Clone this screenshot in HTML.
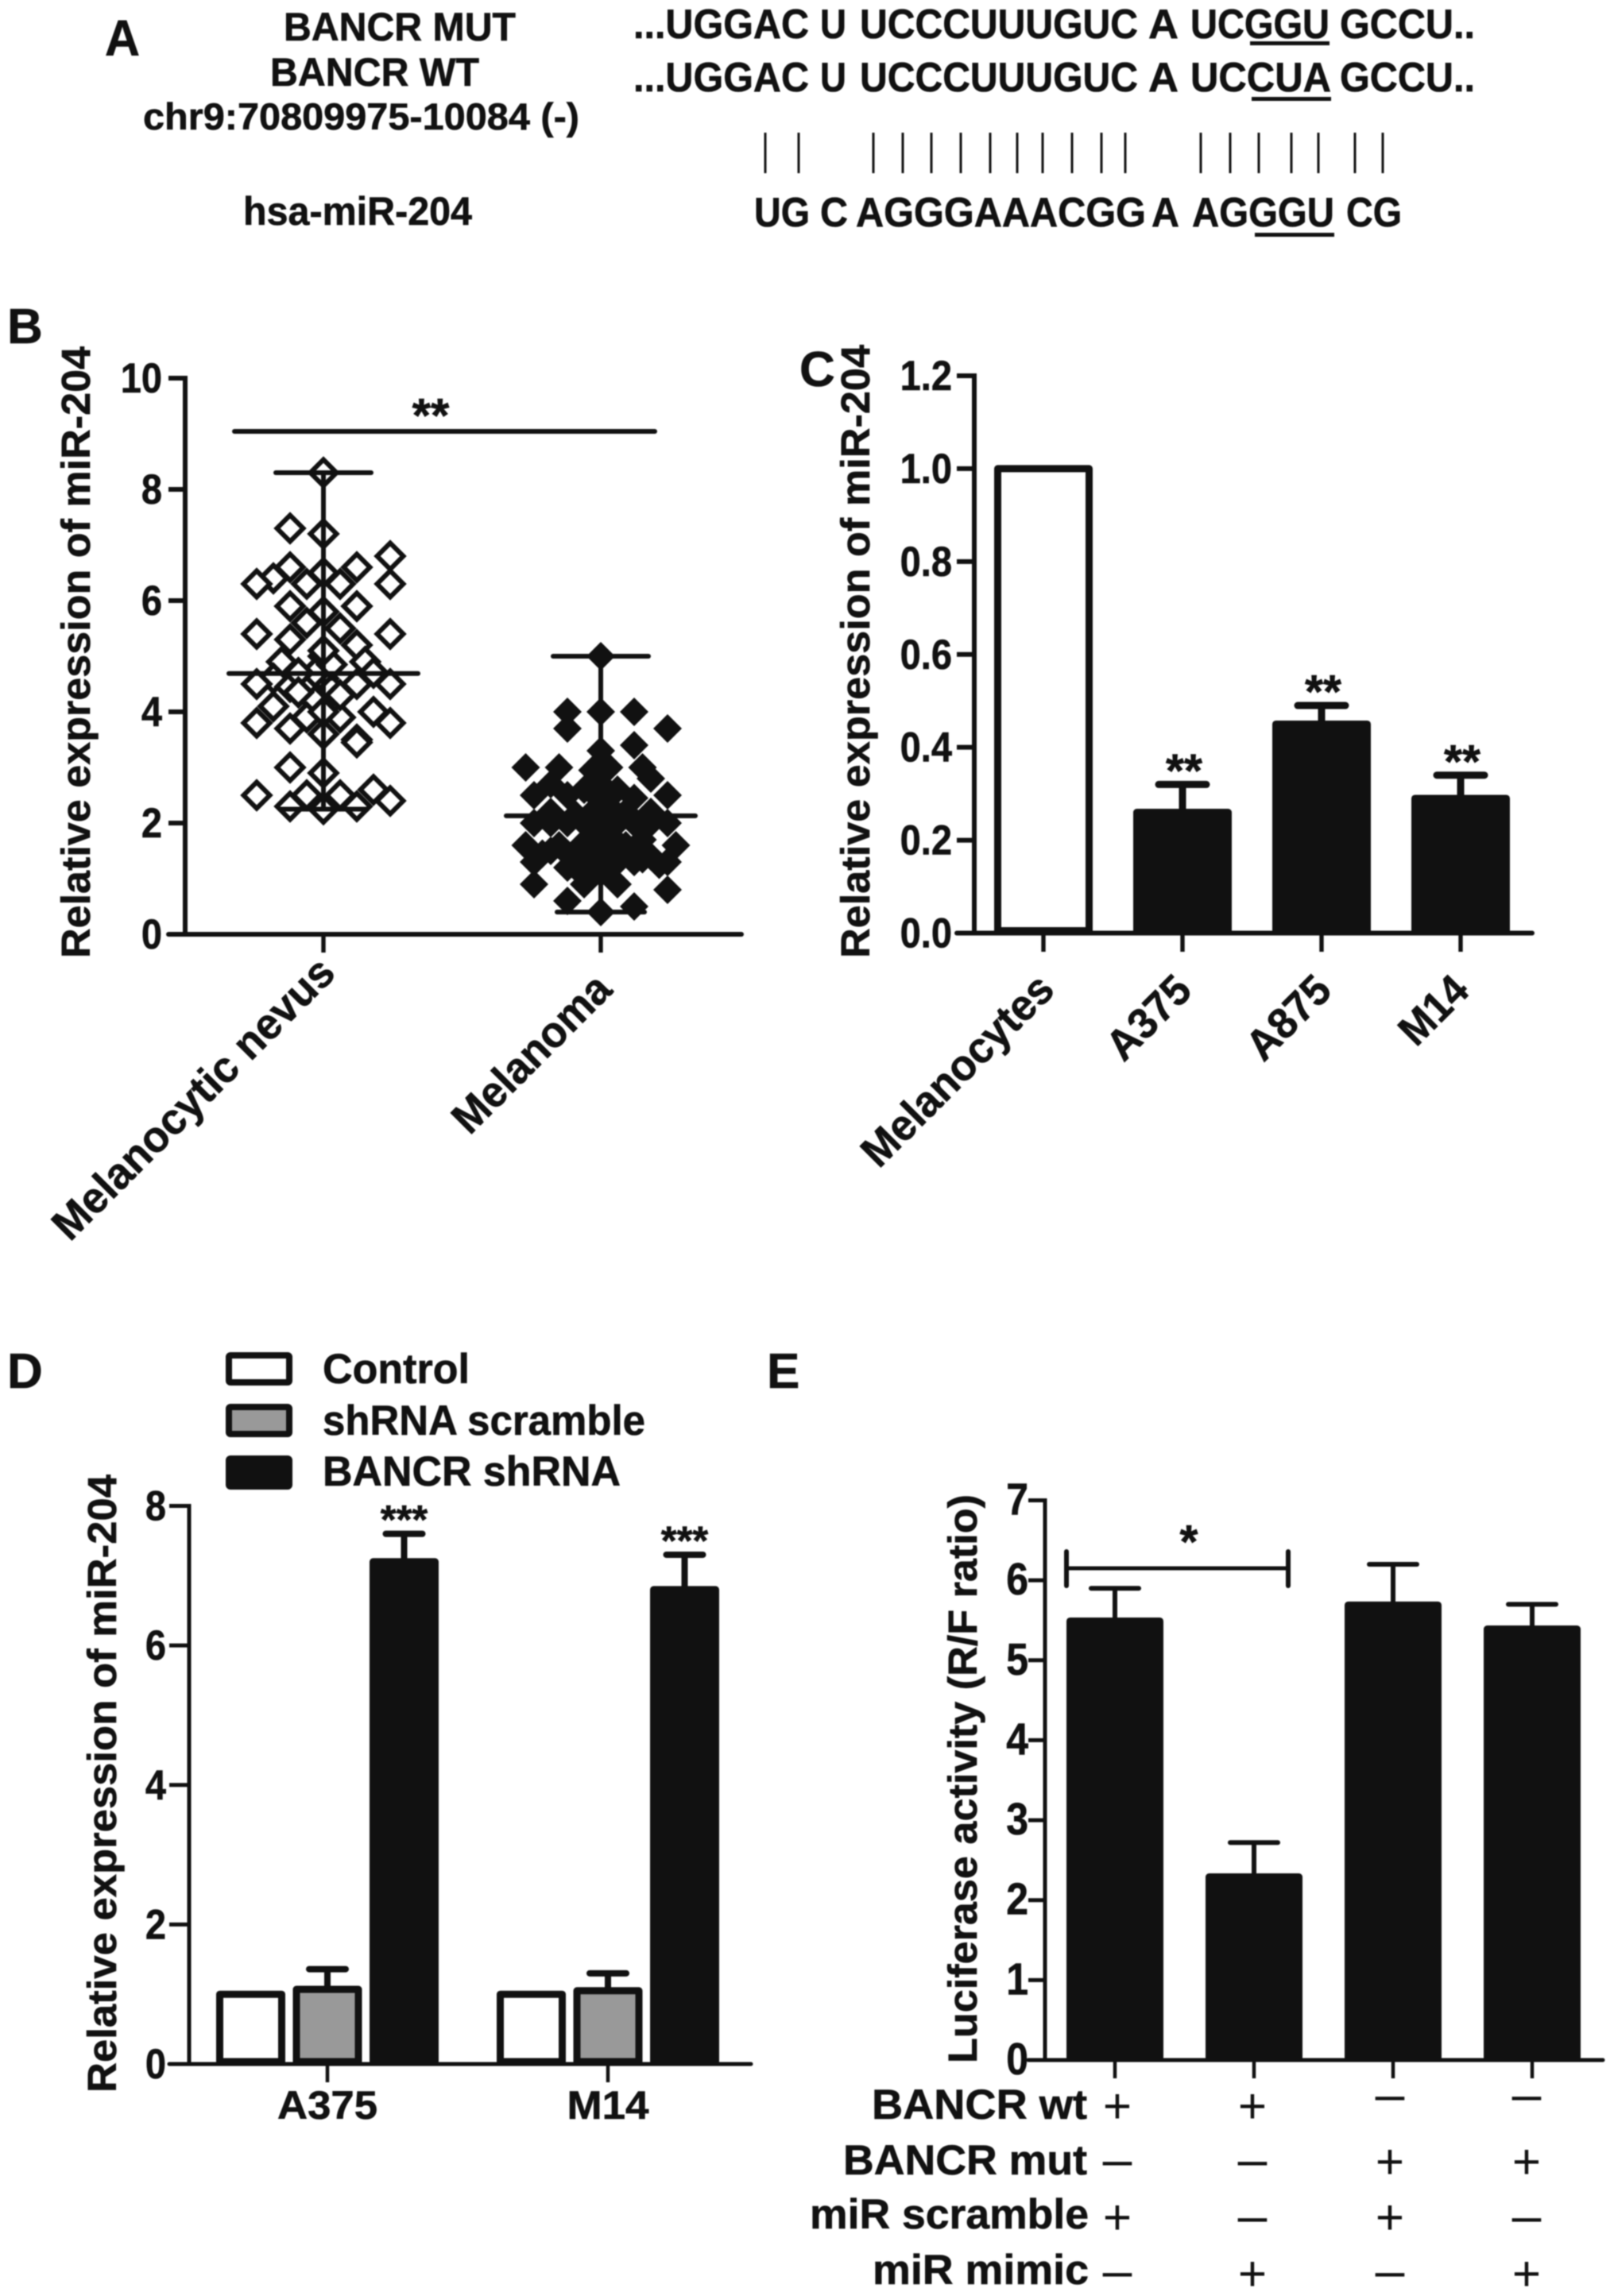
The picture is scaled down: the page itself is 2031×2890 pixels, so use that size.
<!DOCTYPE html>
<html lang="en">
<head>
<meta charset="utf-8">
<title>BANCR and miR-204 figure</title>
<style>
html,body{margin:0;padding:0;background:#fff;}
#figure{display:block;width:2031px;height:2890px;filter:blur(0.7px);}
text{font-family:"Liberation Sans",Arial,sans-serif;font-weight:bold;fill:#111;stroke:#111;stroke-width:0.6px;}
.seq{font-size:52px;}
</style>
</head>
<body>
<svg id="figure" xmlns="http://www.w3.org/2000/svg" width="2031" height="2890" viewBox="0 0 2031 2890">
  <rect width="2031" height="2890" fill="#fff"/>

  <g>
    <text x="132" y="70" font-size="64" textLength="44" lengthAdjust="spacingAndGlyphs">A</text>
    <text x="357" y="51" font-size="50" textLength="292" lengthAdjust="spacingAndGlyphs">BANCR MUT</text>
    <text x="340" y="108" font-size="50" textLength="263" lengthAdjust="spacingAndGlyphs">BANCR WT</text>
    <text x="180" y="163" font-size="47" textLength="549" lengthAdjust="spacingAndGlyphs">chr9:70809975-10084 (-)</text>
    <text x="306" y="283" font-size="50" textLength="288" lengthAdjust="spacingAndGlyphs">hsa-miR-204</text>

    <g class="seq">
      <text x="797" y="48" textLength="221" lengthAdjust="spacingAndGlyphs">...UGGAC</text>
      <text x="1032" y="48" textLength="33" lengthAdjust="spacingAndGlyphs">U</text>
      <text x="1082" y="48" textLength="350" lengthAdjust="spacingAndGlyphs">UCCCUUUGUC</text>
      <text x="1445" y="48" textLength="38" lengthAdjust="spacingAndGlyphs">A</text>
      <text x="1498" y="48" textLength="175" lengthAdjust="spacingAndGlyphs">UCGGU</text>
      <text x="1686" y="48" textLength="170" lengthAdjust="spacingAndGlyphs">GCCU..</text>
    </g>
    <rect x="1573" y="52" width="100" height="5" fill="#111"/>

    <g class="seq">
      <text x="797" y="115" textLength="221" lengthAdjust="spacingAndGlyphs">...UGGAC</text>
      <text x="1032" y="115" textLength="33" lengthAdjust="spacingAndGlyphs">U</text>
      <text x="1082" y="115" textLength="350" lengthAdjust="spacingAndGlyphs">UCCCUUUGUC</text>
      <text x="1445" y="115" textLength="38" lengthAdjust="spacingAndGlyphs">A</text>
      <text x="1498" y="115" textLength="177" lengthAdjust="spacingAndGlyphs">UCCUA</text>
      <text x="1686" y="115" textLength="170" lengthAdjust="spacingAndGlyphs">GCCU..</text>
    </g>
    <rect x="1575" y="122" width="100" height="5" fill="#111"/>

    <g id="pairing"></g>

    <g class="seq">
      <text x="949" y="285" textLength="70" lengthAdjust="spacingAndGlyphs">UG</text>
      <text x="1032" y="285" textLength="35" lengthAdjust="spacingAndGlyphs">C</text>
      <text x="1077" y="285" textLength="365" lengthAdjust="spacingAndGlyphs">AGGGAAACGG</text>
      <text x="1449" y="285" textLength="35" lengthAdjust="spacingAndGlyphs">A</text>
      <text x="1500" y="285" textLength="179" lengthAdjust="spacingAndGlyphs">AGGGU</text>
      <text x="1694" y="285" textLength="70" lengthAdjust="spacingAndGlyphs">CG</text>
    </g>
    <rect x="1579" y="293" width="100" height="5" fill="#111"/>
  </g>

  <text x="9" y="432" font-size="62">B</text>
  <text x="1006" y="486" font-size="62">C</text>
  <text x="9" y="1747" font-size="62">D</text>
  <text x="965" y="1747" font-size="62">E</text>

  <text transform="translate(113,1206) rotate(-90)" font-size="51" textLength="770" lengthAdjust="spacingAndGlyphs">Relative expression of miR-204</text>
  <text transform="translate(1094,1206) rotate(-90)" font-size="51" textLength="772" lengthAdjust="spacingAndGlyphs">Relative expression of miR-204</text>
  <text transform="translate(146,2634) rotate(-90)" font-size="51" textLength="778" lengthAdjust="spacingAndGlyphs">Relative expression of miR-204</text>
  <text transform="translate(1229,2597) rotate(-90)" font-size="51" textLength="716" lengthAdjust="spacingAndGlyphs">Luciferase activity (R/F ratio)</text>

  <g>
    <rect x="288" y="1706" width="76" height="34" fill="#fff" stroke="#111" stroke-width="8" rx="2"/>
    <text x="406" y="1741" font-size="53" textLength="185" lengthAdjust="spacingAndGlyphs">Control</text>
    <rect x="288" y="1771" width="76" height="34" fill="#999" stroke="#111" stroke-width="8" rx="2"/>
    <text x="406" y="1806" font-size="53" textLength="406" lengthAdjust="spacingAndGlyphs">shRNA scramble</text>
    <rect x="288" y="1836" width="76" height="35" fill="#111" stroke="#111" stroke-width="8" rx="2"/>
    <text x="406" y="1870" font-size="53" textLength="375" lengthAdjust="spacingAndGlyphs">BANCR shRNA</text>
  </g>

  <g>
    <text x="1368" y="2667" font-size="53" text-anchor="end" textLength="271" lengthAdjust="spacingAndGlyphs">BANCR wt</text>
    <text x="1368" y="2737" font-size="53" text-anchor="end" textLength="307" lengthAdjust="spacingAndGlyphs">BANCR mut</text>
    <text x="1370" y="2805" font-size="53" text-anchor="end" textLength="351" lengthAdjust="spacingAndGlyphs">miR scramble</text>
    <text x="1370" y="2875" font-size="53" text-anchor="end" textLength="272" lengthAdjust="spacingAndGlyphs">miR mimic</text>
  </g>
  <g id="dynamic"></g>
</svg>

<script>
const pairingColumns = [963,1005,1099,1136,1172,1209,1246,1280,1312,1349,1386,1416,1511,1548,1584,1625,1659,1705,1740];

// Panel B data
const bCategories = ["Melanocytic nevus","Melanoma"];
const bTicks = [0,2,4,6,8,10];
const bMeans = [4.69,2.13];
const bSignificance = "**";
const nevusValues = [8.3,7.3,7.2,6.8,6.6,6.6,6.5,6.4,6.3,6.3,6.3,6.3,5.9,5.9,5.8,5.6,5.5,5.4,5.4,5.3,5.2,5.0,4.9,4.9,4.8,4.7,4.6,4.5,4.5,4.45,4.5,4.5,4.6,4.2,4.2,4.1,4.0,3.8,3.8,3.9,3.9,3.7,3.6,3.5,3.45,3.0,2.9,2.6,2.5,2.5,2.5,2.4,2.3,2.25,2.3,4.0,4.4,4.7,4.3,4.85,5.1,4.7,4.35];
const nevusSlots  = [0,-2,0,4,-2,2,0,-3,-4,-1,1,4,-2,2,0,-1,1,-4,4,-2,2,0,-2.5,2.5,0,3,-3,-4,4,-2,2,-1,0,0,-0.5,-3,3,-4,4,-1,1,-2,0,2,2,-2,0,3,-1,1,-4,4,-2,0,2,0,0.5,-0.5,1,0.5,0,-1.5,-1.5];
const melanomaValues = [5.0,4.0,4.0,4.0,3.7,3.7,3.4,3.3,3.0,3.0,3.0,3.0,2.95,2.7,2.8,2.5,2.5,2.6,2.6,2.5,2.45,2.4,2.7,2.0,2.0,2.0,2.0,2.1,2.0,2.0,2.0,2.0,1.6,1.6,1.6,1.45,1.3,1.3,1.2,1.3,1.4,1.4,1.6,1.5,1.85,1.65,1.7,0.9,0.9,1.1,0.9,0.8,0.6,0.5,0.4,1.5,1.3,1.3,1.2,2.2,2.3,1.9,1.8,1.7,1.4,1.5,1.2,1.6,1.45,1.35,1.25,2.2,2.2,2.15,2.2];
const melanomaSlots  = [0,-2,0,2,-2,4,2,0,-4.5,-2.5,0.5,2.5,-0.5,-3,3,-4,4,1,-1,-2,2,0,0,-4,-3,-2,-1,0,1,2,3,4,-4.5,4.5,-2.5,-3.5,-4,4,-2,2,3,-1,0,1,0,-1,2.5,-1,1,0,-4,4,-2,2,0,-3,0,1,-1,-0.5,0.5,-0.5,0.5,0.5,-0.5,2,-1.5,1.5,-2,2.5,3.5,-3,3,-1.5,1.5];

// Panel C data
const cCategories = ["Melanocytes","A375","A875","M14"];
const cTicks = ["0.0","0.2","0.4","0.6","0.8","1.0","1.2"];
const cValues = [1.0,0.26,0.45,0.29];
const cErrors = [0,0.06,0.04,0.05];
const cSignificance = ["","**","**","**"];

// Panel D data
const dCategories = ["A375","M14"];
const dTicks = [0,2,4,6,8];
const dControl = [1.0,1.0];
const dScramble = [1.07,1.05];
const dScrambleErrors = [0.29,0.25];
const dShrna = [7.2,6.8];
const dShrnaErrors = [0.4,0.5];
const dSignificance = ["***","***"];

// Panel E data
const eTicks = [0,1,2,3,4,5,6,7];
const eValues = [5.5,2.3,5.7,5.4];
const eErrors = [0.4,0.42,0.5,0.3];
const eBracketLevel = 6.15;
const eRowBancrWt = ["+","+","-","-"];
const eRowBancrMut = ["-","-","+","+"];
const eRowMirScramble = ["+","-","+","-"];
const eRowMirMimic = ["-","+","-","+"];

const NS = "http://www.w3.org/2000/svg";
const root = document.getElementById("dynamic");
const INK = "#111";

function make(tag, parent, attrs, text) {
  const el = document.createElementNS(NS, tag);
  for (const k in attrs) el.setAttribute(k, attrs[k]);
  if (text !== undefined) el.textContent = text;
  parent.appendChild(el);
  return el;
}
function seg(parent, name, x1, y1, x2, y2, w, cap) {
  const el = make("line", parent, {x1, y1, x2, y2, stroke: INK, "stroke-width": w, "stroke-linecap": cap || "butt"});
  
  
  return el;
}
function label(parent, name, x, y, size, content, extra) {
  const el = make("text", parent, Object.assign({x, y, "font-size": size}, extra || {}), content);
  
  
  return el;
}
function panel(name) {
  const g = make("g", root, {});
  
  
  return g;
}
function linearY(y0, yMax, vMax) {
  return v => y0 - (y0 - yMax) * v / vMax;
}
function tickWidth(str, font) {
  let em = 0;
  for (const ch of str) em += ch === "." ? 0.278 : 0.556;
  return em * font;
}
function axes(g, prefix, o) {
  seg(g, prefix + "-y-axis", o.x, o.top - o.w / 2, o.x, o.y0, o.w);
  seg(g, prefix + "-x-axis", o.tickLeft, o.y0, o.right, o.y0, o.w, "round");
  o.ticks.forEach(t => {
    const y = o.scale(+t);
    const s = String(t);
    seg(g, prefix + "-y-tick-" + t, o.tickLeft, y, o.x, y, o.w);
    label(g, prefix + "-y-tick-label-" + t, o.labelX, y + 18, o.font * 1.13, s, {"text-anchor": "end", textLength: tickWidth(s, o.font), lengthAdjust: "spacingAndGlyphs"});
  });
  o.xTicks.forEach((x, i) => {
    seg(g, prefix + "-x-tick-" + i, x, o.y0, x, o.tickBottom, o.w * 0.9);
  });
}
function bar(g, name, cx, width, y0, yTop, fill) {
  const stroke = 9;
  const el = make("rect", g, {
    x: cx - width / 2 + stroke / 2, y: yTop,
    width: width - stroke, height: y0 - 3 - yTop,
    fill: fill, stroke: INK, "stroke-width": stroke, "stroke-linejoin": "round"
  });
  
  
  return el;
}
function errorBar(g, name, cx, yBase, yTop, capWidth, w) {
  seg(g, name + "-stem", cx, yBase, cx, yTop, w);
  seg(g, name + "-cap", cx - capWidth / 2, yTop, cx + capWidth / 2, yTop, w, "round");
}
function stars(g, name, cx, cy, size, content) {
  label(g, name, cx, cy + size * 0.56, size, content, {"text-anchor": "middle"});
}
function slantLabel(g, name, x, y, size, length, content) {
  const el = make("text", g, {transform: "translate(" + x + "," + y + ") rotate(-45)", "font-size": size, textLength: length, lengthAdjust: "spacingAndGlyphs"}, content);
  
  
}

// Panel A pairing lines
const pairingGroup = document.getElementById("pairing");
pairingColumns.forEach((x, i) => {
  const pairLine = make("line", pairingGroup, {x1: x, y1: 167, x2: x, y2: 218, stroke: INK, "stroke-width": 3});
  
  
});

// Panel B
(function () {
  const g = panel("panel-b-scatter");
  const y = linearY(1176, 476, 10);
  const cols = [407, 756];
  const slotStep = 21;
  axes(g, "panel-b", {x: 233, top: y(10), y0: y(0), w: 6, tickLeft: 212, right: 933, tickBottom: 1199, ticks: bTicks, scale: y, labelX: 204, font: 47, xTicks: cols});
  slantLabel(g, "x-label-melanocytic-nevus", 88, 1564, 55, 476, bCategories[0]);
  slantLabel(g, "x-label-melanoma", 591, 1430, 55, 257, bCategories[1]);

  const groups = [[nevusValues, nevusSlots, "#fff", 16.5, 6], [melanomaValues, melanomaSlots, INK, 18, 0]];
  groups.forEach((grp, gi) => {
    const vals = grp[0], slots = grp[1], cx = cols[gi];
    const top = Math.max.apply(null, vals), low = Math.min.apply(null, vals);
    const prefix = gi === 0 ? "nevus" : "melanoma";
    vals.forEach((v, i) => {
      const px = cx + slots[i] * slotStep, py = y(v), r = grp[3];
      const d = make("polygon", g, {points: [px, py - r, px + r, py, px, py + r, px - r, py].join(","), fill: grp[2], stroke: INK, "stroke-width": grp[4]});
      
      
    });
    seg(g, prefix + "-range-line", cx, y(top), cx, y(low), 6);
    seg(g, prefix + "-range-cap-top", cx - 60, y(top), cx + 60, y(top), 6, "round");
    seg(g, prefix + "-range-cap-bottom", cx - 55, y(low), cx + 55, y(low), 6, "round");
    seg(g, prefix + "-mean-line", cx - 119, y(bMeans[gi]), cx + 119, y(bMeans[gi]), 6, "round");
  });
  seg(g, "significance-bar", 295, 543, 824, 543, 6, "round");
  stars(g, "significance-stars", 542, 510, 60, bSignificance);
})();

// Panel C
(function () {
  const g = panel("panel-c-bars");
  const y = linearY(1174.5, 473, 1.2);
  const xs = cCategories.map((c, i) => 1313 + 175 * i);
  axes(g, "panel-c", {x: 1226, top: y(1.2), y0: y(0), w: 6, tickLeft: 1204, right: 1928, tickBottom: 1198, ticks: cTicks, scale: y, labelX: 1198, font: 47, xTicks: xs});
  xs.forEach((x, i) => {
    const v = cValues[i], top = v + cErrors[i];
    if (cErrors[i] > 0) errorBar(g, "bar-" + cCategories[i] + "-error", x, y(v), y(top), 60, 9);
    bar(g, "bar-" + cCategories[i], x, 124, y(0), y(v), i === 0 ? "#fff" : INK);
    if (cSignificance[i]) stars(g, "stars-" + cCategories[i], x + 2, y(top) - 30, 59, cSignificance[i]);
  });
  slantLabel(g, "x-label-melanocytes", 1106, 1472, 55, 316, cCategories[0]);
  slantLabel(g, "x-label-a375", 1414, 1338, 54, 125, cCategories[1]);
  slantLabel(g, "x-label-a875", 1590, 1338, 54, 125, cCategories[2]);
  slantLabel(g, "x-label-m14", 1782, 1319, 54, 98, cCategories[3]);
})();

// Panel D
(function () {
  const g = panel("panel-d-bars");
  const y = linearY(2598, 1895.5, 8);
  const xs = [412, 765];
  const offset = 96.5, w = 87;
  axes(g, "panel-d", {x: 238, top: y(8), y0: y(0), w: 5, tickLeft: 213, right: 945, tickBottom: 2621, ticks: dTicks, scale: y, labelX: 209, font: 47, xTicks: xs});
  dCategories.forEach((c, i) => {
    const x = xs[i];
    bar(g, "bar-" + c + "-control", x - offset, w, y(0), y(dControl[i]), "#fff");
    errorBar(g, "bar-" + c + "-scramble-error", x, y(dScramble[i]), y(dScramble[i] + dScrambleErrors[i]), 46, 8);
    bar(g, "bar-" + c + "-scramble", x, w, y(0), y(dScramble[i]), "#999");
    const top = dShrna[i] + dShrnaErrors[i];
    errorBar(g, "bar-" + c + "-shrna-error", x + offset, y(dShrna[i]), y(top), 46, 8);
    bar(g, "bar-" + c + "-shrna", x + offset, w, y(0), y(dShrna[i]), INK);
    stars(g, "stars-" + c, x + offset, y(top) - 29, 51, dSignificance[i]);
    label(g, "x-label-" + c, x, 2667, 50, c, {"text-anchor": "middle", textLength: i === 0 ? 126 : 103, lengthAdjust: "spacingAndGlyphs"});
  });
})();

// Panel E
(function () {
  const g = panel("panel-e-bars");
  const y = linearY(2593, 1888.5, 7);
  const xs = eValues.map((v, i) => 1403 + 175 * i);
  axes(g, "panel-e", {x: 1315, top: y(7), y0: y(0), w: 5, tickLeft: 1294, right: 2017, tickBottom: 2616, ticks: eTicks, scale: y, labelX: 1294, font: 50, xTicks: xs});
  eValues.forEach((v, i) => {
    errorBar(g, "bar-e-" + i + "-error", xs[i], y(v), y(v + eErrors[i]), 60, 6);
    bar(g, "bar-e-" + i, xs[i], 122, y(0), y(v) + 1, INK);
  });
  const by = y(eBracketLevel);
  seg(g, "bracket-line", 1342, by, 1621, by, 5);
  seg(g, "bracket-left-end", 1342, by - 21, 1342, by + 22, 6, "round");
  seg(g, "bracket-right-end", 1621, by - 21, 1621, by + 22, 6, "round");
  stars(g, "bracket-star", 1496, by - 46, 59, "*");

  const rows = [eRowBancrWt, eRowBancrMut, eRowMirScramble, eRowMirMimic];
  const rowNames = ["bancr-wt", "bancr-mut", "mir-scramble", "mir-mimic"];
  const plusRowY = [2650, 2720, 2790, 2861];
  const dashRowY = [2640, 2722, 2793, 2862];
  const markX = [1406, 1576, 1749, 1921];
  rows.forEach((row, r) => {
    row.forEach((m, c) => {
      const isPlus = m === "+";
      const size = isPlus ? 62 : 66;
      const cy = isPlus ? plusRowY[r] : dashRowY[r];
      const mark = make("text", g, {x: markX[c], y: cy + (isPlus ? 22 : 18), "font-size": size, "text-anchor": "middle", style: "font-weight:normal;stroke-width:0"}, isPlus ? "+" : "\u2013");
      
      
    });
  });
})();
</script>
</body>
</html>
